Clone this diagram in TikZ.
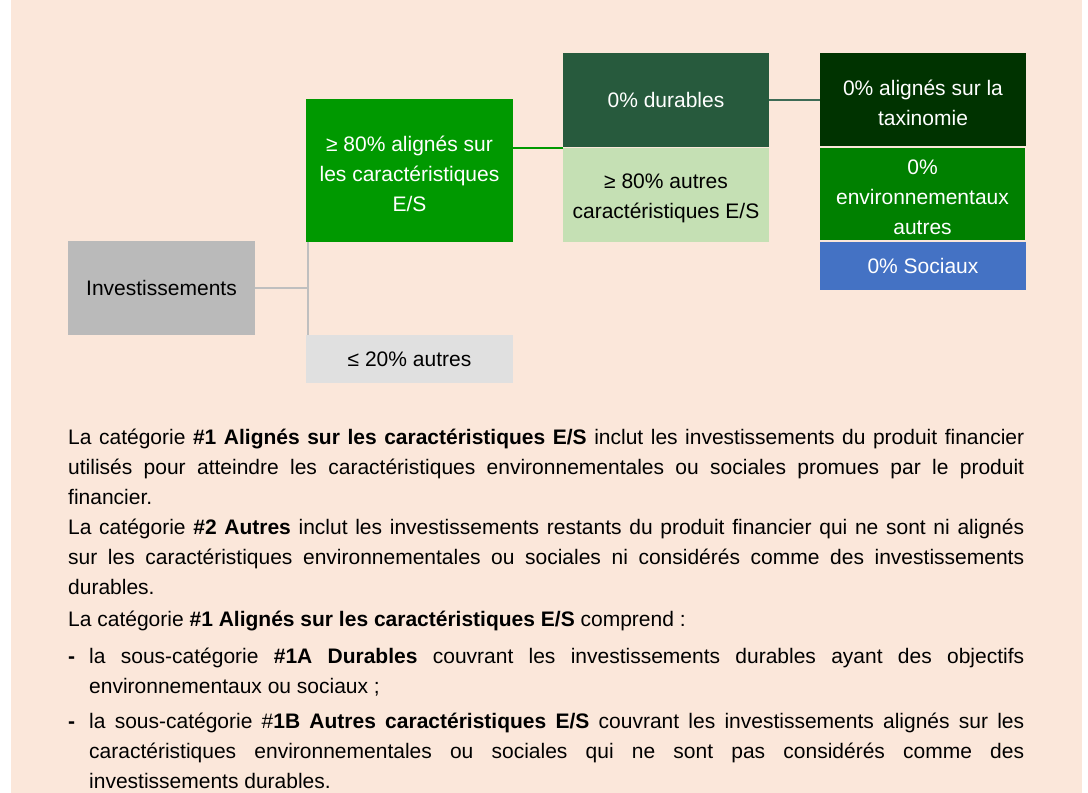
\documentclass[tikz,border=0pt]{standalone}
\usepackage{fontspec}
\setmainfont{Liberation Sans}
\definecolor{fond}{RGB}{251,231,218}
\definecolor{gris}{RGB}{186,186,186}
\definecolor{grisclair}{RGB}{224,224,224}
\definecolor{lien}{RGB}{191,191,191}
\definecolor{vertES}{RGB}{0,153,0}
\definecolor{vertfonce}{RGB}{39,90,61}
\definecolor{vertpale}{RGB}{197,224,180}
\definecolor{vertnuit}{RGB}{0,51,0}
\definecolor{vertenv}{RGB}{0,128,0}
\definecolor{bleu}{RGB}{68,114,196}
\definecolor{lienfonce}{RGB}{61,107,85}
\newcommand{\haut}{\rule{0pt}{22pt}}
\begin{document}
\begin{tikzpicture}[x=1pt,y=-1pt,
  boite/.style={minimum width=207pt, inner sep=0pt, outer sep=0pt, align=center, font=\fontsize{21}{30}\selectfont},
  texte/.style={anchor=base west, text width=956pt, align=justify, inner sep=0pt, font=\fontsize{21}{30}\selectfont}]
\useasboundingbox (0,0) rectangle (1088,793);
\fill[fond] (11,0) rectangle (1082,793);
% arbre
\node[boite, fill=gris, minimum width=187pt, minimum height=94pt] (1) at (161.5,288) {Investissements};
\node[boite, fill=vertES, text=white, minimum height=143pt] (2) at (409.5,170.5) {\haut≥ 80\% alignés sur\\les caractéristiques\\E/S};
\node[boite, fill=grisclair, minimum height=48pt] (3) at (409.5,359) {≤ 20\% autres};
\node[boite, fill=vertfonce, text=white, minimum width=206pt, minimum height=94pt] (4) at (666,100) {0\% durables};
\node[boite, fill=vertpale, minimum width=206pt, minimum height=94pt] (5) at (666,195) {\haut≥ 80\% autres\\caractéristiques E/S};
\node[boite, fill=vertnuit, text=white, minimum width=206pt, minimum height=93pt] (6) at (923,99.5) {\haut0\% alignés sur la\\taxinomie};
\node[boite, fill=vertenv, text=white, minimum width=205pt, minimum height=92pt] (7) at (922.5,194) {\haut0\%\\environnementaux\\autres};
\node[boite, fill=bleu, text=white, minimum width=206pt, minimum height=48pt] (8) at (923,266) {0\% Sociaux};
\path[draw,line width=2pt,lien] (1) -- ([xshift=2pt]1 -| 2.west);
\path[draw,line width=2pt,lien] ([xshift=2pt]2.south west) -- ([xshift=2pt]3.north west);
\path[draw,line width=2pt,vertES] (2.east |- 5.north west) -- (5.north west);
\path[draw,line width=2pt,lienfonce] (4.east) -- (4.east -| 6.west);
% texte
\node[texte] (p1) at (68,444) {La catégorie \textbf{\#1 Alignés sur les caractéristiques E/S} inclut les investissements du produit financier\linebreak utilisés pour atteindre les caractéristiques environnementales ou sociales promues par le produit\linebreak financier.\par La catégorie \textbf{\#2 Autres} inclut les investissements restants du produit financier qui ne sont ni alignés\linebreak sur les caractéristiques environnementales ou sociales ni considérés comme des investissements\linebreak durables.};
\node[texte] (p3) at (68,626) {La catégorie \textbf{\#1 Alignés sur les caractéristiques E/S} comprend :};
\node[texte, text width=935pt] (i1) at (89,663) {\llap{\makebox[21pt][l]{\textbf{-}}}la sous-catégorie \textbf{\#1A Durables} couvrant les investissements durables ayant des objectifs\linebreak environnementaux ou sociaux ;};
\node[texte, text width=935pt] (i2) at (89,728) {\llap{\makebox[21pt][l]{\textbf{-}}}la sous-catégorie \#\textbf{1B Autres caractéristiques E/S} couvrant les investissements alignés sur les\linebreak caractéristiques environnementales ou sociales qui ne sont pas considérés comme des\linebreak investissements durables.};
\end{tikzpicture}
\end{document}
